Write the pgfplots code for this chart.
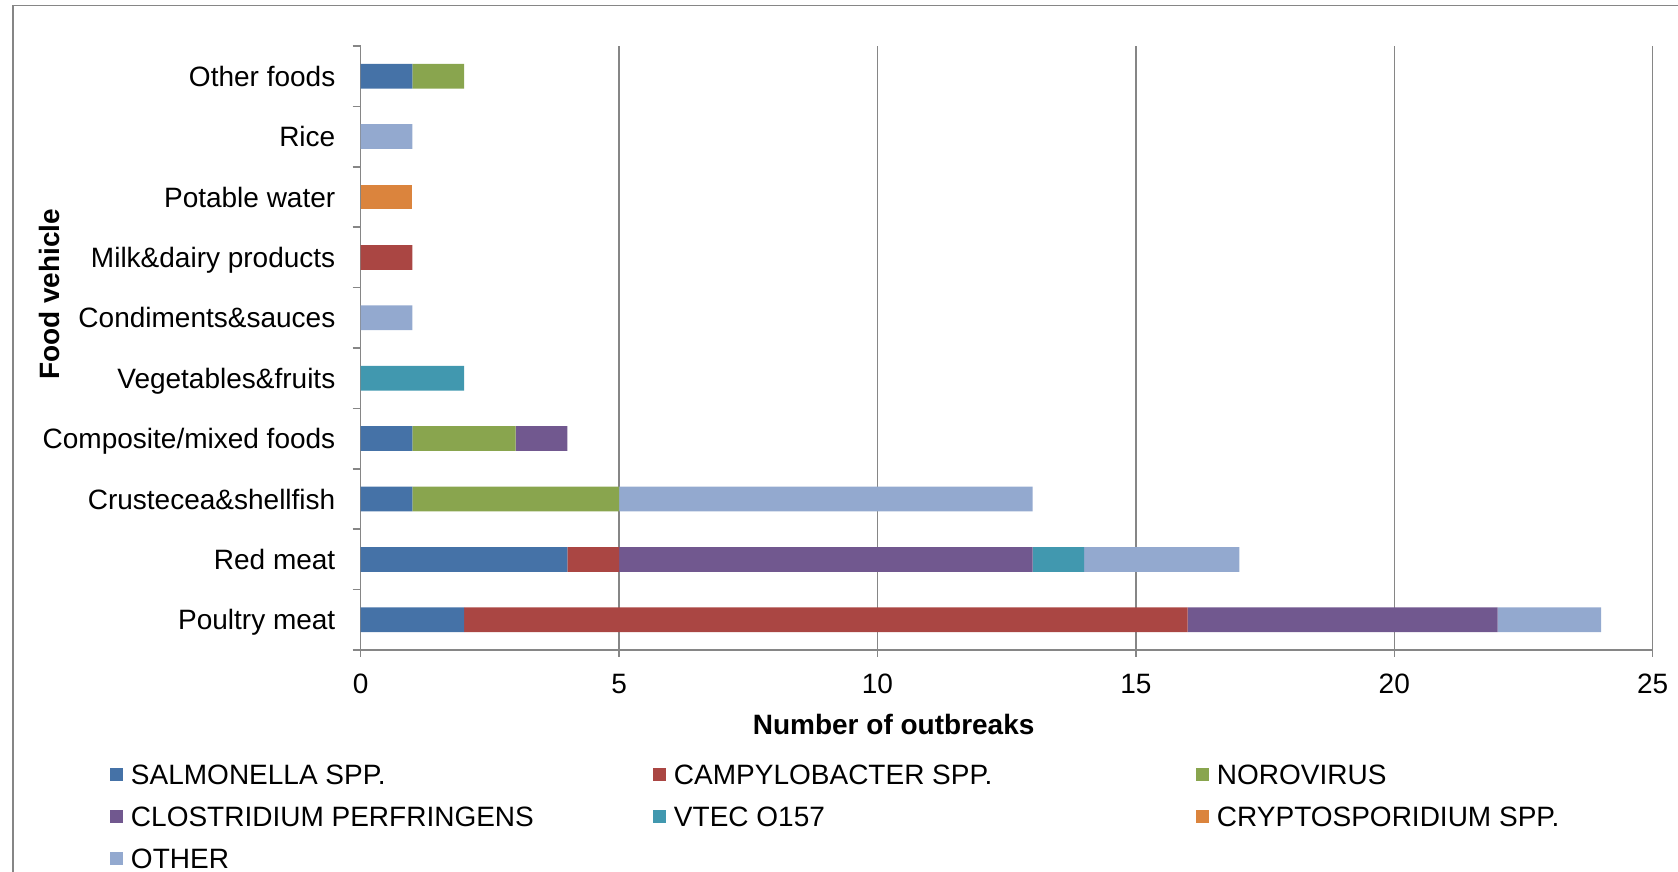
\documentclass[border=0pt]{standalone}
\usepackage{pgfplots}
\pgfplotsset{compat=1.18}
\usepackage{fontspec}
\setmainfont{Liberation Sans}
\definecolor{cSal}{HTML}{4572A7}
\definecolor{cCam}{HTML}{AA4643}
\definecolor{cNor}{HTML}{89A54E}
\definecolor{cClo}{HTML}{71588F}
\definecolor{cVte}{HTML}{4198AF}
\definecolor{cCry}{HTML}{DB843D}
\definecolor{cOth}{HTML}{93A9CF}
\definecolor{axgray}{HTML}{868686}
\newcommand{\fs}{\fontsize{14pt}{17pt}\selectfont}
\newcommand{\lr}{\rule[-5.45pt]{0pt}{20.9pt}}
\pgfplotsset{lg/.style={draw=none, legend image code/.code={\fill[##1] (0pt,-3.25pt) rectangle (6.5pt,3.25pt);}}}
\begin{document}
\begin{tikzpicture}[font=\fs]
\useasboundingbox (-180.35pt,-111pt) rectangle (658.65pt,325pt);
\draw[color=axgray, line width=0.75pt] (-173.85pt,-115pt) -- (-173.85pt,322.25pt) -- (665pt,322.25pt);
\begin{axis}[
 at={(0pt,0pt)}, anchor=south west,
 width=646pt, height=302pt, scale only axis,
 xbar stacked, bar width=0.41,
 xmin=0, xmax=25, ymin=-0.5, ymax=9.5,
 xtick={0,5,10,15,20,25},
 ytick={0,...,9},
 yticklabels={Poultry meat, Red meat, Crustecea\&shellfish, Composite/mixed foods, Vegetables\&fruits, Condiments\&sauces, Milk\&dairy products, Potable water, Rice, Other foods},
 minor ytick={-0.5,0.5,...,9.5},
 axis x line*=bottom, axis y line*=left,
 axis line style={draw=axgray, line width=0.75pt},
 xmajorgrids, major grid style={draw=axgray, line width=0.75pt},
 tick align=outside,
 major tick length=3.5pt, minor tick length=4pt,
 tick style={draw=axgray, line width=0.75pt},
 major y tick style={draw=none},
 /pgf/number format/assume math mode=true,
 tick label style={font=\fs},
 xticklabel style={anchor=north, inner sep=0pt, yshift=-8.3pt},
 yticklabel style={anchor=base east, inner sep=0pt, xshift=-9pt, yshift=-5.1pt},
 xlabel={Number of outbreaks},
 xlabel style={at={(axis description cs:0.4125,-0.1233)}, anchor=center, font=\fs\bfseries},
 ylabel={Food vehicle},
 ylabel style={at={(axis description cs:-0.2411,0.589)}, anchor=center, font=\fs\bfseries},
 legend columns=3,
 legend cell align=left,
 legend style={at={(axis description cs:-0.19404,-0.1717)}, anchor=north west, draw=none, fill=none, inner sep=0pt, outer sep=0pt, column sep=0pt, row sep=0pt, font=\fs, nodes={inner sep=0pt, outer sep=0pt, text depth=5.45pt}, cells={anchor=west}},
]
\addplot[lg, fill=cSal] coordinates {(2,0) (4,1) (1,2) (1,3) (0,4) (0,5) (0,6) (0,7) (0,8) (1,9)};
\addlegendentry{\makebox[265pt][l]{\hspace{4pt}\lr SALMONELLA SPP.}}
\addplot[lg, fill=cCam] coordinates {(14,0) (1,1) (0,2) (0,3) (0,4) (0,5) (1,6) (0,7) (0,8) (0,9)};
\addlegendentry{\makebox[265pt][l]{\hspace{4pt}\lr CAMPYLOBACTER SPP.}}
\addplot[lg, fill=cNor] coordinates {(0,0) (0,1) (4,2) (2,3) (0,4) (0,5) (0,6) (0,7) (0,8) (1,9)};
\addlegendentry{\makebox[180pt][l]{\hspace{4pt}\lr NOROVIRUS}}
\addplot[lg, fill=cClo] coordinates {(6,0) (8,1) (0,2) (1,3) (0,4) (0,5) (0,6) (0,7) (0,8) (0,9)};
\addlegendentry{\makebox[265pt][l]{\hspace{4pt}\lr CLOSTRIDIUM PERFRINGENS}}
\addplot[lg, fill=cVte] coordinates {(0,0) (1,1) (0,2) (0,3) (2,4) (0,5) (0,6) (0,7) (0,8) (0,9)};
\addlegendentry{\makebox[265pt][l]{\hspace{4pt}\lr VTEC O157}}
\addplot[lg, fill=cCry] coordinates {(0,0) (0,1) (0,2) (0,3) (0,4) (0,5) (0,6) (1,7) (0,8) (0,9)};
\addlegendentry{\makebox[180pt][l]{\hspace{4pt}\lr CRYPTOSPORIDIUM SPP.}}
\addplot[lg, fill=cOth] coordinates {(2,0) (3,1) (8,2) (0,3) (0,4) (1,5) (0,6) (0,7) (1,8) (0,9)};
\addlegendentry{\makebox[265pt][l]{\hspace{4pt}\lr OTHER}}
\end{axis}
\end{tikzpicture}
\end{document}
